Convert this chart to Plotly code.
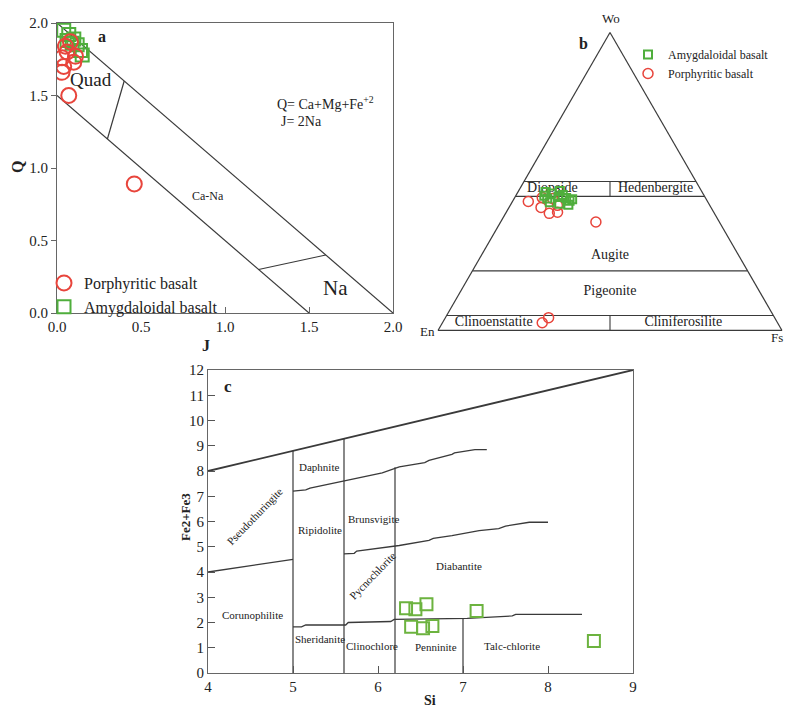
import plotly.graph_objects as go

# ---------------- Panel a data (J vs Q) ----------------
porph_a_J = [0.05, 0.08, 0.11, 0.04, 0.03, 0.07, 0.10, 0.06, 0.03, 0.46]
porph_a_Q = [1.84, 1.87, 1.77, 1.70, 1.66, 1.50, 1.73, 1.80, 1.76, 0.89]
amyg_a_J = [0.04, 0.07, 0.10, 0.12, 0.14, 0.15, 0.09, 0.06]
amyg_a_Q = [1.95, 1.92, 1.89, 1.85, 1.81, 1.78, 1.86, 1.88]

# field boundaries of panel a
a_upper_J = [0, 2]
a_upper_Q = [2, 0]
a_lower_J = [0, 1.5]
a_lower_Q = [1.5, 0]
a_quad_J = [0.3, 0.4]
a_quad_Q = [1.2, 1.6]
a_na_J = [1.2, 1.6]
a_na_Q = [0.3, 0.4]

# ---------------- Panel b data (Wo-En-Fs, %) ----------------
amyg_b_Wo = [46.5, 46.0, 46.8, 45.5, 44.5, 43.5, 44.3, 43.0, 42.5, 44.8, 44.0, 45.2, 42.2]
amyg_b_Fs = [8.0, 10.0, 12.0, 13.5, 15.0, 16.5, 9.6, 11.0, 14.0, 12.6, 17.0, 8.3, 16.8]
amyg_b_En = [45.5, 44.0, 41.2, 41.0, 40.5, 40.0, 46.1, 46.0, 43.5, 42.6, 39.0, 46.5, 41.0]
porph_b_Wo = [43.3, 41.3, 39.3, 39.7, 42.0, 44.6, 44.3, 36.4, 2.6, 4.3]
porph_b_Fs = [4.6, 9.3, 12.7, 14.9, 13.7, 8.0, 11.1, 27.7, 29.0, 30.0]
porph_b_En = [52.1, 49.4, 48.0, 45.4, 44.3, 47.4, 44.6, 35.9, 68.4, 65.7]

# pyroxene field boundaries (Wo levels) and En=Fs dividers
b_wo_levels = [50, 45, 20, 5]
b_div_Wo = [[45, 50], [0, 5]]

b_labels = ["Diopside", "Hedenbergite", "Augite", "Pigeonite", "Clinoenstatite", "Cliniferosilite"]
b_lab_Wo = [47.5, 47.5, 25.0, 13.0, 2.6, 2.6]
b_lab_Fs = [9.5, 39.5, 37.5, 43.5, 14.9, 70.0]
b_lab_En = [43.0, 13.0, 37.5, 43.5, 82.5, 27.4]

# ---------------- Panel c data (Si vs Fe2+Fe3) ----------------
si_c = [6.33, 6.44, 6.57, 7.16, 6.39, 6.53, 6.64, 8.54]
fe_c = [2.56, 2.52, 2.72, 2.46, 1.83, 1.77, 1.86, 1.27]

c_top_x = [4, 9]
c_top_y = [8, 12]
c_left_x = [4, 5]
c_left_y = [4, 4.5]
c_v5_x = [5, 5]; c_v5_y = [0, 8.8]
c_v56_x = [5.6, 5.6]; c_v56_y = [0, 9.28]
c_v62_x = [6.2, 6.2]; c_v62_y = [0, 8.15]
c_v7_x = [7.0, 7.0]; c_v7_y = [0, 2.16]
c_up_x = [5.0, 5.15, 5.2, 5.6, 5.62, 6.05, 6.25, 6.55, 6.6, 6.87, 6.9, 7.14, 7.28]
c_up_y = [7.2, 7.25, 7.32, 7.6, 7.62, 7.93, 8.16, 8.33, 8.42, 8.66, 8.72, 8.85, 8.85]
c_mid_x = [5.6, 5.72, 5.75, 6.25, 6.6, 6.65, 6.87, 7.19, 7.42, 7.5, 7.78, 8.0]
c_mid_y = [4.72, 4.74, 4.83, 5.05, 5.25, 5.33, 5.44, 5.64, 5.72, 5.82, 5.97, 5.97]
c_low_x = [5.0, 5.1, 5.15, 5.62, 5.65, 6.15, 6.19, 7.05, 7.58, 7.62, 8.4]
c_low_y = [1.83, 1.83, 1.9, 1.9, 2.0, 2.04, 2.12, 2.16, 2.26, 2.32, 2.32]

c_labels = ["Daphnite", "Ripidolite", "Brunsvigite", "Diabantite", "Corunophilite",
            "Sheridanite", "Clinochlore", "Penninite", "Talc-chlorite"]
c_lab_x = [5.31, 5.32, 5.95, 6.95, 4.52, 5.32, 5.93, 6.68, 7.58]
c_lab_y = [8.16, 5.67, 6.1, 4.25, 2.3, 1.33, 1.06, 1.04, 1.06]

SERIF = "Liberation Serif"
RED = "#e8453c"
GREEN = "#4fae3c"
LINE = "#3a3a3a"

fig = go.Figure()

# ---- panel a ----
for xs, ys in [(a_upper_J, a_upper_Q), (a_lower_J, a_lower_Q), (a_quad_J, a_quad_Q), (a_na_J, a_na_Q)]:
    fig.add_trace(go.Scatter(x=xs, y=ys, mode="lines", line=dict(color=LINE, width=1.2),
                             showlegend=False, hoverinfo="skip", xaxis="x", yaxis="y"))
fig.add_trace(go.Scatter(x=amyg_a_J, y=amyg_a_Q, mode="markers", name="Amygdaloidal basalt",
                         marker=dict(symbol="square-open", size=13, color=GREEN, line=dict(width=2)),
                         xaxis="x", yaxis="y", legend="legend", legendrank=2))
fig.add_trace(go.Scatter(x=porph_a_J, y=porph_a_Q, mode="markers", name="Porphyritic basalt",
                         marker=dict(symbol="circle-open", size=15, color=RED, line=dict(width=2)),
                         xaxis="x", yaxis="y", legend="legend", legendrank=1))

# ---- panel b (ternary) ----
for w in b_wo_levels:
    fig.add_trace(go.Scatterternary(a=[w, w], b=[100 - w, 0], c=[0, 100 - w], mode="lines",
                                    line=dict(color=LINE, width=1.1), showlegend=False,
                                    hoverinfo="skip", subplot="ternary"))
for wv in b_div_Wo:
    fig.add_trace(go.Scatterternary(a=wv, b=[(100 - v) / 2 for v in wv], c=[(100 - v) / 2 for v in wv],
                                    mode="lines", line=dict(color=LINE, width=1.1), showlegend=False,
                                    hoverinfo="skip", subplot="ternary"))
fig.add_trace(go.Scatterternary(a=b_lab_Wo, b=b_lab_En, c=b_lab_Fs, mode="text", text=b_labels,
                                textfont=dict(family=SERIF, size=14, color="#222"),
                                showlegend=False, hoverinfo="skip", subplot="ternary"))
fig.add_trace(go.Scatterternary(a=porph_b_Wo, b=porph_b_En, c=porph_b_Fs, mode="markers",
                                name="Porphyritic basalt",
                                marker=dict(symbol="circle-open", size=10, color=RED, line=dict(width=1.5)),
                                subplot="ternary", legend="legend2", legendrank=2))
fig.add_trace(go.Scatterternary(a=amyg_b_Wo, b=amyg_b_En, c=amyg_b_Fs, mode="markers",
                                name="Amygdaloidal basalt",
                                marker=dict(symbol="square-open", size=8, color=GREEN, line=dict(width=2)),
                                subplot="ternary", legend="legend2", legendrank=1))

# ---- panel c ----
c_lines = [(c_top_x, c_top_y, 1.8), (c_left_x, c_left_y, 1.3), (c_v5_x, c_v5_y, 1.2),
           (c_v56_x, c_v56_y, 1.2), (c_v62_x, c_v62_y, 1.2), (c_v7_x, c_v7_y, 1.2),
           (c_up_x, c_up_y, 1.3), (c_mid_x, c_mid_y, 1.3), (c_low_x, c_low_y, 1.3)]
for xs, ys, lw in c_lines:
    fig.add_trace(go.Scatter(x=xs, y=ys, mode="lines", line=dict(color=LINE, width=lw),
                             showlegend=False, hoverinfo="skip", xaxis="x2", yaxis="y2"))
fig.add_trace(go.Scatter(x=si_c, y=fe_c, mode="markers", name="Amygdaloidal basalt",
                         marker=dict(symbol="square-open", size=12, color="#6cb33f", line=dict(width=2)),
                         showlegend=False, xaxis="x2", yaxis="y2"))

W, H = 796, 707
OFF = 8  # the page body adds an 8px margin; compensate so positions match the reference
def px(x):
    return (x - OFF) / W
def py(y):
    return 1 - (y - OFF) / H

ann = []
# panel a annotations
ann += [
    dict(x=0.27, y=1.91, xref="x", yref="y", text="<b>a</b>", font=dict(size=16)),
    dict(x=0.2, y=1.61, xref="x", yref="y", text="Quad", font=dict(size=19)),
    dict(x=0.9, y=0.81, xref="x", yref="y", text="Ca-Na", font=dict(size=12)),
    dict(x=1.66, y=0.17, xref="x", yref="y", text="Na", font=dict(size=21)),
    dict(x=1.30, y=1.45, xref="x", yref="y", text="Q= Ca+Mg+Fe<sup>+2</sup>", xanchor="left", font=dict(size=14)),
    dict(x=1.32, y=1.32, xref="x", yref="y", text="J= 2Na", xanchor="left", font=dict(size=14)),
    dict(x=px(17), y=py(167), xref="paper", yref="paper", text="<b>Q</b>", textangle=-90, font=dict(size=16)),
    dict(x=px(206), y=py(345), xref="paper", yref="paper", text="<b>J</b>", font=dict(size=16)),
]
# panel b annotations
ann += [
    dict(x=px(611), y=py(18), xref="paper", yref="paper", text="Wo", font=dict(size=13)),
    dict(x=px(428), y=py(331), xref="paper", yref="paper", text="En", font=dict(size=13)),
    dict(x=px(777), y=py(337), xref="paper", yref="paper", text="Fs", font=dict(size=13)),
    dict(x=px(583), y=py(43), xref="paper", yref="paper", text="<b>b</b>", font=dict(size=16)),
]
# panel c annotations
for t, x, y in zip(c_labels, c_lab_x, c_lab_y):
    ann.append(dict(x=x, y=y, xref="x2", yref="y2", text=t, font=dict(size=11)))
ann += [
    dict(x=4.55, y=6.23, xref="x2", yref="y2", text="Pseudothuringite", textangle=-46, font=dict(size=11)),
    dict(x=5.93, y=3.85, xref="x2", yref="y2", text="Pycnochlorite", textangle=-46, font=dict(size=11)),
    dict(x=4.23, y=11.35, xref="x2", yref="y2", text="<b>c</b>", font=dict(size=17)),
    dict(x=px(430), y=py(700), xref="paper", yref="paper", text="<b>Si</b>", font=dict(size=14)),
    dict(x=px(185), y=py(517), xref="paper", yref="paper", text="<b>Fe2+Fe3</b>", textangle=-90, font=dict(size=13)),
]
for a in ann:
    a.setdefault("showarrow", False)
    a.setdefault("xanchor", "center")
    a.setdefault("yanchor", "middle")
    f = a.get("font", {})
    f.setdefault("family", SERIF)
    f.setdefault("color", "#222")
    a["font"] = f

axis_common = dict(showgrid=False, zeroline=False, showline=True, linecolor="#666", linewidth=1.2,
                   mirror=True, automargin=False, tickfont=dict(family=SERIF, size=15, color="#222"))
tern_axis = dict(showticklabels=False, ticks="", showgrid=False, linecolor=LINE, linewidth=1.2,
                 title=dict(text=""))

fig.update_layout(
    width=W, height=H, margin=dict(l=0, r=0, t=0, b=0, autoexpand=False),
    paper_bgcolor="white", plot_bgcolor="white",
    font=dict(family=SERIF, color="#222"),
    xaxis=dict(domain=[px(57), px(393)], range=[0, 2], tickvals=[0, 0.5, 1, 1.5, 2],
               ticktext=["0.0", "0.5", "1.0", "1.5", "2.0"], ticks="inside", ticklen=6,
               tickcolor="#666", anchor="y", **axis_common),
    yaxis=dict(domain=[py(313), py(23)], range=[0, 2], tickvals=[0, 0.5, 1, 1.5, 2],
               ticktext=["0.0", "0.5", "1.0", "1.5", "2.0"], ticks="outside", ticklen=5,
               tickcolor="#666", anchor="x", **axis_common),
    xaxis2=dict(domain=[px(208), px(633)], range=[4, 9], tickvals=[4, 5, 6, 7, 8, 9],
                ticks="inside", ticklen=7, tickcolor="#555", anchor="y2", **axis_common),
    yaxis2=dict(domain=[py(673), py(370)], range=[0, 12], tickvals=list(range(13)),
                ticks="inside", ticklen=7, tickcolor="#555", anchor="x2", **axis_common),
    ternary=dict(
        domain=dict(x=[px(438), px(782)], y=[py(335), py(28)]),
        sum=100, bgcolor="white",
        aaxis=tern_axis, baxis=tern_axis, caxis=tern_axis,
    ),
    legend=dict(x=px(44), y=py(266), xanchor="left", yanchor="top", bgcolor="rgba(0,0,0,0)",
                font=dict(family=SERIF, size=16, color="#222"), itemwidth=30, tracegroupgap=0),
    legend2=dict(x=px(628), y=py(40), xanchor="left", yanchor="top", bgcolor="rgba(0,0,0,0)",
                 font=dict(family=SERIF, size=12, color="#222"), itemwidth=30, tracegroupgap=0),
    annotations=ann,
)

fig.write_html("out.html")
